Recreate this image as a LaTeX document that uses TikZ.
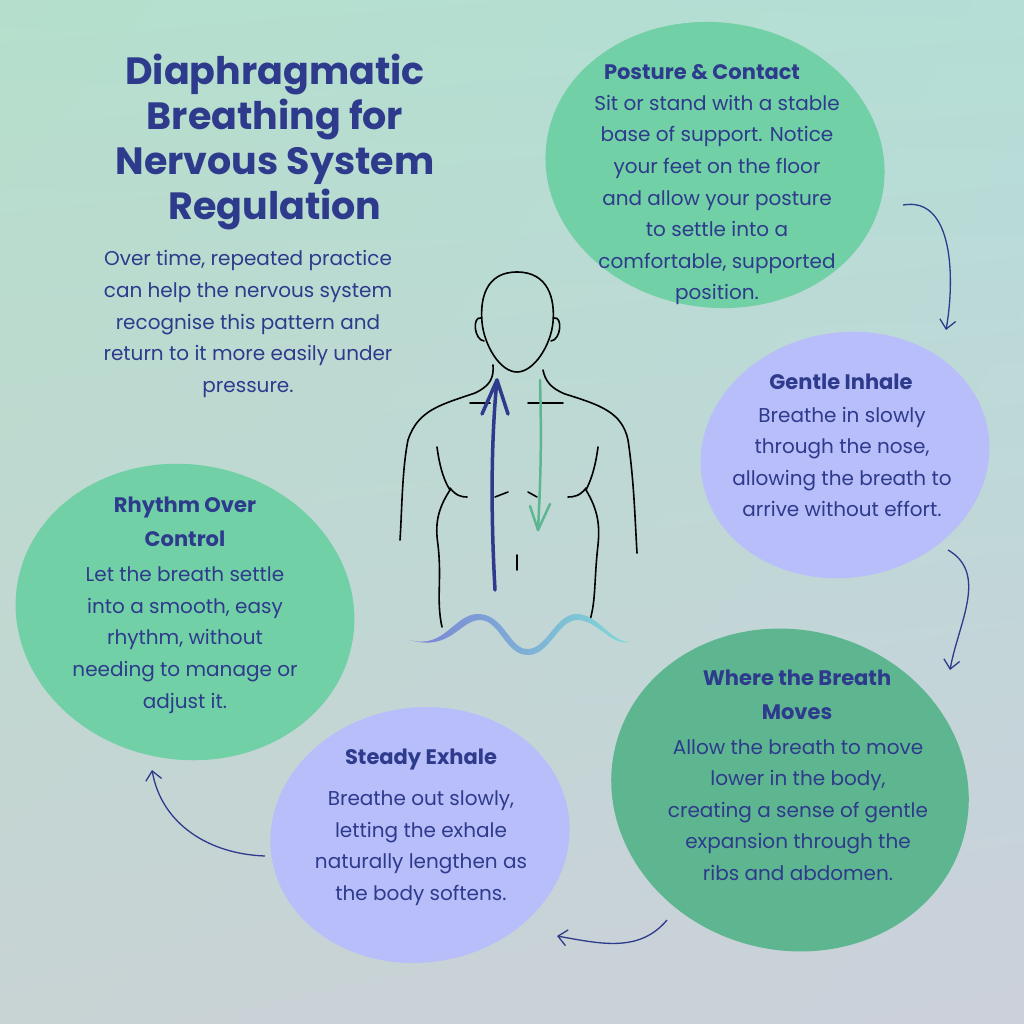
\documentclass[tikz,border=0pt]{standalone}
\usepackage{fontspec}
\setmainfont{Poppins}
\usetikzlibrary{shapes.geometric,arrows.meta,shadings}
\definecolor{navy}{HTML}{2E3A8C}
\definecolor{mint}{HTML}{72D0A6}
\definecolor{sea}{HTML}{5DB68F}
\definecolor{lilac}{HTML}{B8BEFA}
\definecolor{wavea}{HTML}{7C82D6}
\definecolor{waveb}{HTML}{7FDAD6}
\definecolor{bgul}{HTML}{B5DFCC}
\definecolor{bgur}{HTML}{B4DED6}
\definecolor{bgll}{HTML}{C8D3D4}
\definecolor{bglr}{HTML}{CCD0DB}
\tikzset{
  blob/.style={ellipse, draw=none, fill=#1},
  head/.style={text=navy, font=\fontsize{21}{34}\selectfont\bfseries, align=center},
  body/.style={text=navy, font=\fontsize{20}{31.6}\selectfont, align=center},
  loop/.style={draw=navy, line width=1.3pt, -{Straight Barb[length=9pt,width=16pt]}},
  sketch/.style={draw=black, line width=1.6pt, line cap=round}
}
\begin{document}
\begin{tikzpicture}[x=1pt, y=-1pt]
\useasboundingbox (0,0) rectangle (1024,1024);
\fill[bgll] (0,0) rectangle (1024,1024);
\shade[upper left=bgul, upper right=bgur, lower left=bgll, lower right=bglr] (0,0) rectangle (1024,1024);
% blobs
\node[blob=mint, minimum width=340pt, minimum height=285pt, rotate=-8] (posture) at (715,165) {};
\node[blob=lilac, minimum width=290pt, minimum height=245pt, rotate=10] (inhale) at (845,455) {};
\node[blob=sea, minimum width=360pt, minimum height=320pt, rotate=-15] (moves) at (790,790) {};
\node[blob=lilac, minimum width=300pt, minimum height=255pt, rotate=8] (exhale) at (420,835) {};
\node[blob=mint, minimum width=340pt, minimum height=295pt, rotate=-10] (rhythm) at (185,612) {};
% title and intro
\node[text=navy, font=\fontsize{38}{45}\selectfont\bfseries, align=center] (title) at (275,142)
  {Diaphragmatic\\Breathing for\\Nervous System\\Regulation};
\node[body] (intro) at (248,324) {Over time, repeated practice\\can help the nervous system\\recognise this pattern and\\return to it more easily under\\pressure.};
% step texts
\node[head] (postureh) at (702,72) {Posture \& Contact};
\node[body] (postureb) at (717,200) {Sit or stand with a stable\\base of support. Notice\\your feet on the floor\\and allow your posture\\to settle into a\\comfortable, supported\\position.};
\node[head] (inhaleh) at (841,382) {Gentle Inhale};
\node[body] (inhaleb) at (842,462) {Breathe in slowly\\through the nose,\\allowing the breath to\\arrive without effort.};
\node[head] (movesh) at (797,695) {Where the Breath\\Moves};
\node[body] (movesb) at (798,810) {Allow the breath to move\\lower in the body,\\creating a sense of gentle\\expansion through the\\ribs and abdomen.};
\node[head] (exhaleh) at (421,760) {Steady Exhale};
\node[body] (exhaleb) at (421,848) {Breathe out slowly,\\letting the exhale\\naturally lengthen as\\the body softens.};
\node[head] (rhythmh) at (185,522) {Rhythm Over\\Control};
\node[body] (rhythmb) at (185,640) {Let the breath settle\\into a smooth, easy\\rhythm, without\\needing to manage or\\adjust it.};
% cycle arrows
\coordinate (p1) at (903,205); \coordinate (p2) at (946,330);
\coordinate (i1) at (948,550); \coordinate (i2) at (950,670);
\coordinate (m1) at (667,920); \coordinate (m2) at (557,936);
\coordinate (e1) at (265,856); \coordinate (e2) at (152,770);
\draw[loop] (p1) to[out=10, in=80] (p2);
\draw[loop] (i1) to[out=-30, in=80] (i2);
\draw[loop] (m1) to[out=-130, in=-10] (m2);
\draw[loop] (e1) to[out=178, in=-80] (e2);
% figure
\draw[sketch] (517,272) .. controls (485,272) and (480,300) .. (482,322)
  .. controls (484,345) and (500,372) .. (517,372)
  .. controls (534,372) and (551,345) .. (553,322)
  .. controls (555,300) and (549,272) .. (517,272);
\draw[sketch] (481,318) .. controls (472,316) and (474,340) .. (484,341);
\draw[sketch] (554,318) .. controls (563,316) and (561,340) .. (551,341);
\draw[sketch] (493,365) .. controls (494,378) and (490,386) .. (475,393)
  .. controls (440,405) and (418,410) .. (408,440) .. controls (402,470) and (402,510) .. (400,540);
\draw[sketch] (543,370) .. controls (545,380) and (550,388) .. (565,394)
  .. controls (600,405) and (622,412) .. (628,440) .. controls (634,480) and (635,520) .. (637,553);
\draw[sketch] (470,403) -- (490,403);
\draw[sketch] (528,403) -- (563,403);
\draw[sketch] (437,447) .. controls (440,470) and (445,482) .. (450,490)
  .. controls (437,510) and (435,525) .. (438,545) .. controls (442,580) and (436,600) .. (442,627);
\draw[sketch] (598,447) .. controls (595,470) and (590,482) .. (586,490)
  .. controls (598,510) and (600,525) .. (598,545) .. controls (594,580) and (596,600) .. (590,620);
\draw[sketch] (450,488) .. controls (456,496) and (462,497) .. (467,497);
\draw[sketch] (586,488) .. controls (580,496) and (574,497) .. (568,497);
\draw[sketch] (495,497) -- (508,492);
\draw[sketch] (528,492) -- (537,497);
\draw[sketch] (517,555) -- (517,570);
% breath arrows
\coordinate (up1) at (495,590); \coordinate (up2) at (497,380);
\coordinate (dn1) at (540,380); \coordinate (dn2) at (538,530);
\draw[navy, line width=3.5pt, line cap=round] (up1) .. controls (490,500) and (492,430) .. (up2);
\draw[navy, line width=3.5pt, line cap=round, line join=round] (482,414) -- (up2) -- (508,414);
\draw[sea, line width=2.5pt, line cap=round] (dn1) .. controls (542,450) and (540,490) .. (dn2);
\draw[sea, line width=2.5pt, line cap=round, line join=round] (530,506) -- (dn2) -- (550,504);
% wave
\shade[left color=wavea, right color=waveb]
  (410,640) .. controls (445,650) and (455,612) .. (480,614)
  .. controls (505,616) and (510,650) .. (528,649)
  .. controls (548,648) and (555,614) .. (577,614)
  .. controls (598,614) and (610,642) .. (630,642)
  .. controls (610,646) and (598,620) .. (577,620)
  .. controls (558,620) and (550,655) .. (528,655)
  .. controls (505,655) and (500,620) .. (480,620)
  .. controls (460,620) and (450,652) .. (410,640) -- cycle;
\end{tikzpicture}
\end{document}
